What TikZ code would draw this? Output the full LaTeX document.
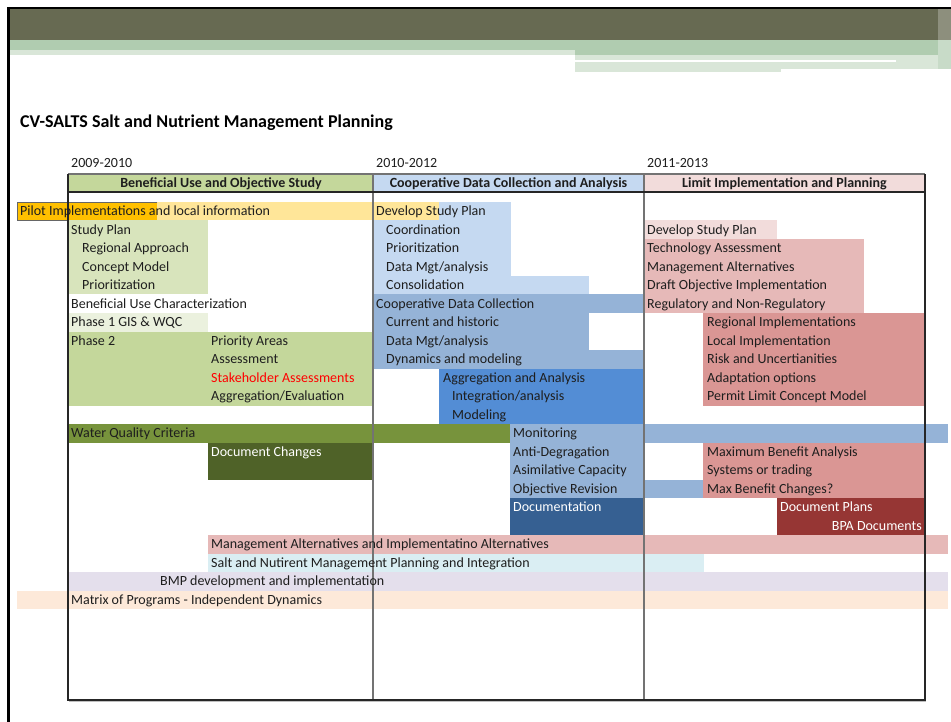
\documentclass[tikz,border=0pt]{standalone}
\usepackage{fontspec}
\setmainfont{Carlito}
\definecolor{txt}{HTML}{1E1E1E}
\definecolor{bandDark}{HTML}{676A52}
\definecolor{bandGreen}{HTML}{B0CCB0}
\definecolor{bandPale}{HTML}{D9E6D8}
\definecolor{cOrange}{HTML}{FFC000}
\definecolor{cYellow}{HTML}{FFE699}
\definecolor{cGreenL}{HTML}{D8E4BC}
\definecolor{cGreenVL}{HTML}{EBF1DE}
\definecolor{cGreen}{HTML}{C4D79B}
\definecolor{cOlive}{HTML}{77933C}
\definecolor{cOliveD}{HTML}{4F6228}
\definecolor{cBlueL}{HTML}{C5D9F1}
\definecolor{cBlueM}{HTML}{95B3D7}
\definecolor{cBlue}{HTML}{538DD5}
\definecolor{cBlueD}{HTML}{366092}
\definecolor{cPinkL}{HTML}{F2DCDB}
\definecolor{cPink}{HTML}{E6B9B8}
\definecolor{cPinkD}{HTML}{DA9694}
\definecolor{cRed}{HTML}{963634}
\definecolor{cCyan}{HTML}{DAEEF3}
\definecolor{cLav}{HTML}{E4DFEC}
\definecolor{cPeach}{HTML}{FDE9D9}
\newcommand\gbar[5]{\fill[#1] (#2,{202+18.5*(#4)}) rectangle (#3,{220.5+18.5*(#5)});}
\newcommand\rlab[5][]{\node[lbl,#1] (#2) at (#3,{212.2+18.5*(#4)}) {#5};}
\begin{document}
\begin{tikzpicture}[x=1pt,y=-1pt,
  lbl/.style={anchor=west,inner sep=0pt,text height=10pt,text depth=2.8pt,font=\fontsize{14}{16}\selectfont,text=txt},
  hdr/.style={inner sep=0pt,text height=10pt,text depth=2.8pt,font=\bfseries\fontsize{14}{16}\selectfont,text=txt},
  grid/.style={line width=1.2pt,draw=black!55},
  frame/.style={line width=1.2pt,draw=black!85}]
\useasboundingbox (0,0) rectangle (951,722);
\fill[white] (0,0) rectangle (951,722);
% top decoration
\fill[bandDark] (9,9) rectangle (951,40);
\fill[bandGreen] (9,40) rectangle (951,50);
\fill[bandPale] (9,50) rectangle (575,55);
\fill[bandGreen] (575,50) rectangle (951,55);
\fill[bandPale] (575,55) rectangle (951,69);
\fill[bandPale] (575,69) rectangle (781,72);
\fill[white] (575,60) rectangle (896,62);
\fill[bandDark!75!white] (938,9) rectangle (951,40);
\fill[bandGreen!70!white] (938,40) rectangle (951,69);
\draw[line width=1.5pt] (8,8) -- (951,8);
\draw[line width=3pt] (8.5,7) -- (8.5,722);
% title and years
\node[anchor=west,inner sep=0pt,font=\bfseries\fontsize{18}{20}\selectfont] (title) at (20,123) {CV-SALTS Salt and Nutrient Management Planning};
\node[lbl] (y1) at (71,164) {2009-2010};
\node[lbl] (y2) at (376,164) {2010-2012};
\node[lbl] (y3) at (647,164) {2011-2013};
% header fills
\fill[cGreen] (68,174) rectangle (373,192);
\fill[cBlueL] (373,174) rectangle (644,192);
\fill[cPinkL] (644,174) rectangle (925,192);
% column 2 light blue block
\gbar{cBlueL}{373}{511}{0}{3}
\gbar{cBlueL}{373}{589}{4}{4}
% row 0
\gbar{cYellow}{157}{439}{0}{0}
\fill[cOrange] (17,202) rectangle (157,220.5);
\draw[line width=0.6pt,draw=black!60] (157,202) -- (17,202) -- (17,220.5) -- (68,220.5);
% column 1
\gbar{cGreenL}{68}{208}{1}{4}
\gbar{cGreenVL}{68}{208}{6}{6}
\gbar{cGreen}{68}{373}{7}{10}
\gbar{cOlive}{68}{510}{12}{12}
\gbar{cOliveD}{208}{373}{13}{14}
% column 2
\gbar{cBlueM}{373}{644}{5}{5}
\gbar{cBlueM}{373}{589}{6}{7}
\gbar{cBlueM}{373}{644}{8}{8}
\gbar{cBlue}{439}{644}{9}{11}
\gbar{cBlueM}{510}{644}{12}{15}
\gbar{cBlueM}{644}{948}{12}{12}
\gbar{cBlueM}{644}{703}{15}{15}
\gbar{cBlueD}{510}{644}{16}{17}
% column 3
\gbar{cPinkL}{644}{777}{1}{1}
\gbar{cPink}{644}{864}{2}{5}
\gbar{cPinkD}{703}{925}{6}{10}
\gbar{cPinkD}{703}{925}{13}{15}
\gbar{cRed}{777}{925}{16}{17}
% long rows
\gbar{cPink}{208}{948}{18}{18}
\gbar{cCyan}{208}{704}{19}{19}
\gbar{cLav}{68}{948}{20}{20}
\gbar{cPeach}{17}{948}{21}{21}
% table lines
\draw[grid] (68,174) -- (925,174);
\draw[grid] (373,174) -- (373,700);
\draw[grid] (644,174) -- (644,700);
\draw[frame] (68,192) -- (925,192);
\draw[frame] (68,174) -- (68,700) -- (925,700) -- (925,174);
\draw[line width=1pt,draw=black!25] (69,701.5) -- (926,701.5);
% header texts
\node[hdr] (h1) at (221,184) {Beneficial Use and Objective Study};
\node[hdr] (h2) at (508.5,184) {Cooperative Data Collection and Analysis};
\node[hdr] (h3) at (784.5,184) {Limit Implementation and Planning};
% column 1 texts
\rlab{r0a}{20}{0}{Pilot Implementations and local information}
\rlab{r1a}{71}{1}{Study Plan}
\rlab{r2a}{82}{2}{Regional Approach}
\rlab{r3a}{82}{3}{Concept Model}
\rlab{r4a}{82}{4}{Prioritization}
\rlab{r5a}{71}{5}{Beneficial Use Characterization}
\rlab{r6a}{71}{6}{Phase 1 GIS \& WQC}
\rlab{r7a}{71}{7}{Phase 2}
\rlab{r7b}{211}{7}{Priority Areas}
\rlab{r8b}{211}{8}{Assessment}
\rlab[text=red]{r9b}{211}{9}{Stakeholder Assessments}
\rlab{r10b}{211}{10}{Aggregation/Evaluation}
\rlab{r12a}{71}{12}{Water Quality Criteria}
\rlab[text=white]{r13b}{211}{13}{Document Changes}
% column 2 texts
\rlab{r0c}{376}{0}{Develop Study Plan}
\rlab{r1c}{386}{1}{Coordination}
\rlab{r2c}{386}{2}{Prioritization}
\rlab{r3c}{386}{3}{Data Mgt/analysis}
\rlab{r4c}{386}{4}{Consolidation}
\rlab{r5c}{376}{5}{Cooperative Data Collection}
\rlab{r6c}{386}{6}{Current and historic}
\rlab{r7c}{386}{7}{Data Mgt/analysis}
\rlab{r8c}{386}{8}{Dynamics and modeling}
\rlab{r9c}{443}{9}{Aggregation and Analysis}
\rlab{r10c}{452}{10}{Integration/analysis}
\rlab{r11c}{452}{11}{Modeling}
\rlab{r12c}{513}{12}{Monitoring}
\rlab{r13c}{513}{13}{Anti-Degragation}
\rlab{r14c}{513}{14}{Asimilative Capacity}
\rlab{r15c}{513}{15}{Objective Revision}
\rlab[text=white]{r16c}{513}{16}{Documentation}
% column 3 texts
\rlab{r1d}{647}{1}{Develop Study Plan}
\rlab{r2d}{647}{2}{Technology Assessment}
\rlab{r3d}{647}{3}{Management Alternatives}
\rlab{r4d}{647}{4}{Draft Objective Implementation}
\rlab{r5d}{647}{5}{Regulatory and Non-Regulatory}
\rlab{r6d}{707}{6}{Regional Implementations}
\rlab{r7d}{707}{7}{Local Implementation}
\rlab{r8d}{707}{8}{Risk and Uncertianities}
\rlab{r9d}{707}{9}{Adaptation options}
\rlab{r10d}{707}{10}{Permit Limit Concept Model}
\rlab{r13d}{707}{13}{Maximum Benefit Analysis}
\rlab{r14d}{707}{14}{Systems or trading}
\rlab{r15d}{707}{15}{Max Benefit Changes?}
\rlab[text=white]{r16d}{780}{16}{Document Plans}
\rlab[text=white,anchor=east]{r17d}{922}{17}{BPA Documents}
% long rows
\rlab{r18}{211}{18}{Management Alternatives and Implementatino Alternatives}
\rlab{r19}{211}{19}{Salt and Nutirent Management Planning and Integration}
\rlab{r20}{160}{20}{BMP development and implementation}
\rlab{r21}{71}{21}{Matrix of Programs - Independent Dynamics}
\end{tikzpicture}
\end{document}
